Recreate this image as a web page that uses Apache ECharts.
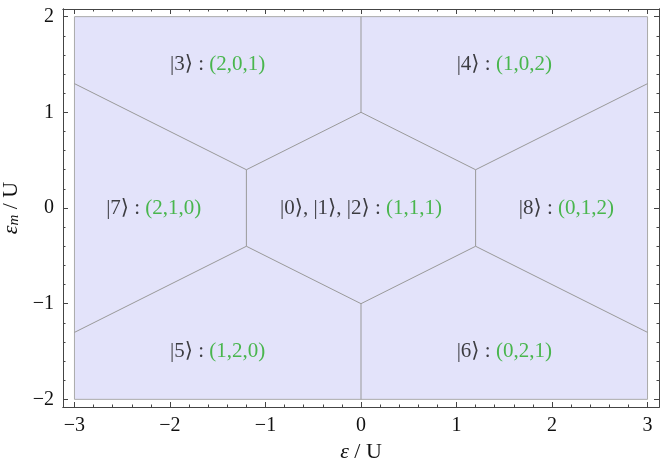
<!DOCTYPE html>
<html>
<head>
<meta charset="utf-8">
<script src="https://cdn.jsdelivr.net/npm/echarts@6/dist/echarts.min.js"></script>
<style>
  html, body { margin: 0; padding: 0; background: #fff; }
  #chart { width: 667px; height: 462px; }
</style>
</head>
<body>
<div id="chart"></div>
<script>
// plot range (the frame is padded a little past the shaded region)
const xRange = [-3.12, 3.12];
const yRange = [-2.08, 2.08];

const xMajor = [-3, -2, -1, 0, 1, 2, 3];
const yMajor = [-2, -1, 0, 1, 2];
const xMinor = [-3, -2.8, -2.6, -2.4, -2.2, -2, -1.8, -1.6, -1.4, -1.2, -1, -0.8, -0.6, -0.4, -0.2, 0,
  0.2, 0.4, 0.6, 0.8, 1, 1.2, 1.4, 1.6, 1.8, 2, 2.2, 2.4, 2.6, 2.8, 3];
const yMinor = [-2, -1.8, -1.6, -1.4, -1.2, -1, -0.8, -0.6, -0.4, -0.2, 0,
  0.2, 0.4, 0.6, 0.8, 1, 1.2, 1.4, 1.6, 1.8, 2];

// shaded region
const regionCorners = [[-3, -2], [3, -2], [3, 2], [-3, 2]];

// central hexagon
const hexagon = [[0, 1], [1.2, 0.4], [1.2, -0.4], [0, -1], [-1.2, -0.4], [-1.2, 0.4], [0, 1]];

// boundaries running out from the hexagon
const spokes = [
  [[0, 1], [0, 2]],
  [[0, -1], [0, -2]],
  [[-1.2, 0.4], [-3, 1.3]],
  [[1.2, 0.4], [3, 1.3]],
  [[-1.2, -0.4], [-3, -1.3]],
  [[1.2, -0.4], [3, -1.3]]
];

// state labels
const labelPos = [[-1.5, 1.5], [1.5, 1.5], [-2.17, 0], [0, 0], [2.15, 0], [-1.5, -1.5], [1.5, -1.5]];
const kets = ['|3\u27E9', '|4\u27E9', '|7\u27E9', '|0\u27E9, |1\u27E9, |2\u27E9', '|8\u27E9', '|5\u27E9', '|6\u27E9'];
const occupations = ['(2,0,1)', '(1,0,2)', '(2,1,0)', '(1,1,1)', '(0,1,2)', '(1,2,0)', '(0,2,1)'];

const serif = '"Liberation Serif", "DejaVu Serif", serif';
const frameColor = '#444';
const lineColor = '#999';

function minus(v) {
  return String(v).replace('-', '\u2212');
}

function makeAxis(pos, range, ticks, len, labels, extra) {
  return Object.assign({
    type: 'value',
    position: pos,
    min: range[0],
    max: range[1],
    axisLine: { show: true, onZero: false, lineStyle: { color: frameColor, width: 1 } },
    axisTick: { show: true, inside: true, length: len, customValues: ticks, lineStyle: { color: frameColor, width: 1 } },
    axisLabel: labels ? {
      show: true, customValues: ticks, formatter: minus,
      fontFamily: serif, fontSize: 20, color: '#111', margin: 9
    } : { show: false },
    splitLine: { show: false }
  }, extra || {});
}

const chart = echarts.init(document.getElementById('chart'));

const series = [
  {
    type: 'custom',
    silent: true,
    z: 1,
    data: [0],
    renderItem: function (params, api) {
      return {
        type: 'polygon',
        shape: { points: regionCorners.map(p => api.coord(p)) },
        style: { fill: '#e3e3fa', stroke: '#aaaaaa', lineWidth: 1 }
      };
    }
  },
  {
    type: 'line',
    data: hexagon,
    symbol: 'none',
    silent: true,
    z: 2,
    lineStyle: { color: lineColor, width: 1 }
  }
];

spokes.forEach(seg => {
  series.push({
    type: 'line',
    data: seg,
    symbol: 'none',
    silent: true,
    z: 2,
    lineStyle: { color: lineColor, width: 1 }
  });
});

series.push({
  type: 'scatter',
  data: labelPos,
  symbolSize: 0,
  silent: true,
  z: 3,
  label: {
    show: true,
    position: 'inside',
    formatter: p => '{k|' + kets[p.dataIndex] + ' : }{o|' + occupations[p.dataIndex] + '}',
    rich: {
      k: { fontFamily: serif, fontSize: 21, color: '#111' },
      o: { fontFamily: serif, fontSize: 21, color: '#22aa22' }
    }
  }
});

chart.setOption({
  animation: false,
  backgroundColor: '#fff',
  grid: { left: 63, right: 8, top: 9, bottom: 55, containLabel: false, outerBoundsMode: 'none' },
  xAxis: [
    makeAxis('bottom', xRange, xMajor, 5, true, {
      name: '{e|\u03B5} / U',
      nameLocation: 'middle',
      nameGap: 34,
      nameTextStyle: {
        fontFamily: serif, fontSize: 22, color: '#111',
        rich: { e: { fontFamily: serif, fontSize: 22, fontStyle: 'italic', color: '#111' } }
      }
    }),
    makeAxis('bottom', xRange, xMinor, 2.5, false),
    makeAxis('top', xRange, xMajor, 5, false),
    makeAxis('top', xRange, xMinor, 2.5, false)
  ],
  yAxis: [
    makeAxis('left', yRange, yMajor, 5, true, {
      name: '{e|\u03B5}{m|m} / U',
      nameLocation: 'middle',
      nameGap: 38,
      nameRotate: 90,
      nameTextStyle: {
        fontFamily: serif, fontSize: 22, color: '#111',
        rich: {
          e: { fontFamily: serif, fontSize: 22, fontStyle: 'italic', color: '#111' },
          m: { fontFamily: serif, fontSize: 15, fontStyle: 'italic', color: '#111', verticalAlign: 'bottom', padding: [7, 0, 0, 0] }
        }
      }
    }),
    makeAxis('left', yRange, yMinor, 2.5, false),
    makeAxis('right', yRange, yMajor, 5, false),
    makeAxis('right', yRange, yMinor, 2.5, false)
  ],
  series: series
});
</script>
</body>
</html>
